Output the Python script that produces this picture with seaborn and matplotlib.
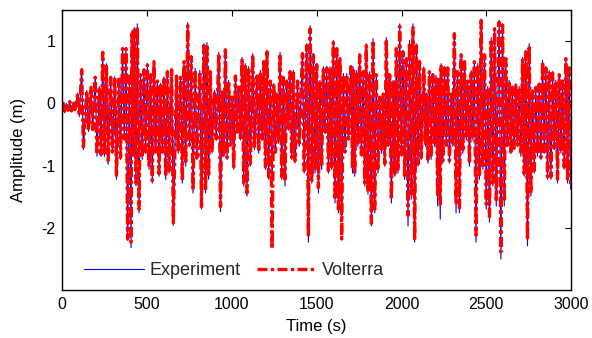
import numpy as np
import pandas as pd
import matplotlib
matplotlib.use("Agg")
import matplotlib.pyplot as plt
import seaborn as sns

# Envelope readings (time centre in s, local max / local min in m)
t_centres = [10, 30, 50, 70, 96, 120, 150, 175, 200, 224, 244, 266, 291, 315, 339, 361, 381, 401, 416,
             430, 448, 467, 487, 507, 526, 546, 566, 585, 605, 625, 650, 679, 703, 723, 745, 766, 789, 816, 840,
             858, 878, 903, 928, 947, 967, 986, 1006, 1026, 1045, 1065, 1084, 1104, 1128, 1153, 1173, 1193, 1212, 1232, 1252, 1270,
             1289, 1308, 1328, 1348, 1367, 1392, 1421, 1446, 1466, 1485, 1505, 1524, 1544, 1564, 1583, 1603, 1623, 1642, 1662, 1682, 1706,
             1719, 1738, 1758, 1778, 1797, 1817, 1837, 1856, 1876, 1896, 1915, 1935, 1955, 1974, 1994, 2013, 2033, 2052, 2072, 2092, 2111, 2136,
             2150, 2169, 2189, 2208, 2223, 2238, 2258, 2277, 2297, 2316, 2336, 2356, 2376, 2395, 2415, 2434, 2454, 2474, 2494, 2513, 2533, 2553,
             2580, 2600, 2619, 2639, 2658, 2678, 2698, 2718, 2737, 2757, 2777, 2796, 2816, 2836, 2855, 2875, 2895, 2914, 2934, 2953, 2973, 2992]

exp_hi = [0.02, 0.00, 0.03, 0.02, 0.16, 0.56, 0.21, 0.27, 0.43, 0.27, 0.84, 0.64, 0.43, 0.43, 0.40, 0.90, 0.90, 0.45, 1.17,
          1.22, 1.28, 0.48, 0.56, 0.64, 0.48, 0.69, 0.37, 0.32, 0.43, 0.53, 0.56, 0.45, 0.43, 0.69, 1.30, 0.77, 0.56, 0.53, 0.96,
          0.98, 0.53, 0.21, 0.82, 0.21, 0.88, 0.37, 0.11, 0.45, 0.27, 0.74, 0.64, 0.59, 0.80, 0.45, 0.53, 0.69, 0.85, 0.37, 0.32, 0.16,
          0.82, 0.43, 0.37, 0.53, 0.53, 0.37, 0.82, 0.96, 1.25, 0.80, 0.64, 0.37, 0.59, 0.59, 0.59, 1.01, 0.90, 0.74, 0.48, 0.48, 0.61,
          0.59, 0.53, 0.80, 0.53, 0.96, 0.51, 1.04, 0.48, 0.11, 0.16, 1.06, 0.48, 0.37, 0.90, 1.28, 0.85, 0.74, 1.01, 1.28, 0.96, 0.69, 0.59,
          0.16, 0.53, 0.48, 0.45, 0.40, 0.64, 0.59, 0.59, 0.16, 1.14, 0.53, 0.80, 0.69, 0.37, 0.53, 0.69, 0.64, 1.36, 0.80, 0.27, 1.06, 1.22,
          1.33, 1.28, 0.74, 0.37, 0.27, 0.32, 0.27, 0.74, 0.85, 0.96, 0.21, 0.27, 0.32, 0.69, 0.59, 0.53, 0.51, 0.37, 0.48, 0.37, 0.74, 0.59]

exp_lo = [-0.15, -0.12, -0.13, -0.10, -0.21, -0.74, -0.45, -0.43, -0.85, -0.85, -0.85, -0.98, -0.80, -1.22, -0.90, -0.59, -2.20, -2.32, -0.85,
          -1.33, -1.76, -0.90, -0.80, -1.06, -1.28, -0.80, -1.17, -0.80, -1.22, -1.12, -1.96, -0.80, -1.28, -1.01, -0.69, -1.44, -0.90, -1.70, -1.44,
          -1.22, -0.80, -0.59, -1.74, -0.85, -0.90, -0.69, -1.06, -0.48, -0.59, -1.33, -1.49, -1.01, -0.74, -0.80, -0.59, -1.06, -1.22, -1.25, -0.80, -0.64,
          -1.22, -1.33, -0.43, -0.90, -0.96, -0.69, -1.12, -2.23, -1.28, -1.12, -1.44, -1.06, -0.48, -1.12, -1.06, -1.60, -1.76, -1.90, -0.80, -0.59, -1.12,
          -1.17, -0.69, -0.85, -1.33, -1.46, -1.97, -1.76, -1.12, -0.80, -1.01, -0.69, -1.60, -1.17, -1.12, -0.85, -1.22, -1.97, -1.54, -2.23, -1.01, -0.90, -0.69,
          -0.96, -0.90, -0.69, -1.65, -1.86, -0.96, -0.69, -0.96, -0.69, -1.76, -1.76, -0.80, -0.59, -1.01, -0.59, -2.23, -1.22, -1.06, -1.70, -1.91, -1.33, -1.65,
          -2.50, -1.65, -0.69, -0.80, -0.74, -0.69, -0.85, -1.17, -2.29, -1.49, -1.12, -0.85, -0.90, -0.80, -1.22, -1.22, -0.74, -1.28, -0.80, -1.06, -1.28, -1.38]

vol_hi = [0.02, 0.00, 0.03, 0.02, 0.15, 0.54, 0.20, 0.26, 0.42, 0.26, 0.82, 0.62, 0.42, 0.42, 0.39, 0.88, 0.88, 0.44, 1.12,
          1.18, 1.24, 0.46, 0.54, 0.62, 0.46, 0.67, 0.36, 0.31, 0.42, 0.51, 0.54, 0.44, 0.42, 0.67, 1.25, 0.75, 0.54, 0.51, 0.93,
          0.95, 0.51, 0.20, 0.80, 0.20, 0.86, 0.36, 0.10, 0.44, 0.26, 0.72, 0.62, 0.57, 0.78, 0.44, 0.51, 0.67, 0.83, 0.36, 0.31, 0.15,
          0.80, 0.42, 0.36, 0.51, 0.51, 0.36, 0.80, 0.93, 1.20, 0.78, 0.62, 0.36, 0.57, 0.57, 0.57, 0.98, 0.88, 0.72, 0.46, 0.46, 0.59,
          0.57, 0.51, 0.78, 0.51, 0.93, 0.49, 1.01, 0.46, 0.10, 0.15, 1.03, 0.46, 0.36, 0.88, 1.24, 0.83, 0.72, 0.98, 1.22, 0.93, 0.67, 0.57,
          0.15, 0.51, 0.46, 0.42, 0.38, 0.62, 0.57, 0.57, 0.15, 1.12, 0.51, 0.78, 0.67, 0.36, 0.51, 0.67, 0.62, 1.33, 0.78, 0.26, 1.03, 1.20,
          1.31, 1.26, 0.72, 0.36, 0.26, 0.31, 0.26, 0.70, 0.83, 0.93, 0.20, 0.26, 0.31, 0.67, 0.57, 0.51, 0.49, 0.36, 0.46, 0.36, 0.72, 0.57]

vol_lo = [-0.14, -0.11, -0.12, -0.10, -0.20, -0.70, -0.43, -0.42, -0.82, -0.82, -0.82, -0.94, -0.78, -1.18, -0.87, -0.57, -2.18, -2.23, -0.82,
          -1.28, -1.70, -0.87, -0.78, -1.02, -1.24, -0.78, -1.13, -0.78, -1.18, -1.08, -1.92, -0.78, -1.24, -0.97, -0.67, -1.40, -0.87, -1.66, -1.40,
          -1.18, -0.78, -0.57, -1.66, -0.82, -0.87, -0.67, -1.02, -0.46, -0.57, -1.28, -1.44, -0.97, -0.72, -0.78, -0.57, -1.02, -1.18, -2.34, -0.78, -0.62,
          -1.18, -1.22, -0.42, -0.87, -0.92, -0.67, -1.08, -2.14, -1.24, -1.08, -1.35, -1.02, -0.46, -1.08, -1.02, -1.55, -1.70, -2.18, -0.78, -0.57, -1.05,
          -1.13, -0.67, -0.82, -1.28, -1.42, -1.93, -1.70, -1.08, -0.78, -0.97, -0.67, -1.55, -1.13, -1.08, -0.82, -1.18, -1.80, -1.49, -2.20, -0.97, -0.87, -0.67,
          -0.90, -0.86, -0.67, -1.50, -1.62, -0.92, -0.67, -0.92, -0.67, -1.60, -1.68, -0.78, -0.57, -0.97, -0.57, -2.12, -1.18, -1.02, -1.62, -1.82, -1.28, -1.55,
          -2.39, -1.58, -0.67, -0.78, -0.72, -0.67, -0.82, -1.13, -2.20, -1.44, -1.08, -0.82, -0.87, -0.78, -1.18, -1.18, -0.72, -1.22, -0.78, -1.02, -1.22, -1.30]


def build(centres, hi, lo):
    t, v = [], []
    for c, h, l in zip(centres, hi, lo):
        t += [c - 5, c + 5]
        v += [h, l]
    return pd.DataFrame({"Time (s)": t, "Amplitude (m)": v})


df_exp = build(t_centres, exp_hi, exp_lo)
df_vol = build(t_centres, vol_hi, vol_lo)

sns.set_theme(style="white")
plt.rcParams['font.family'] = ['Liberation Sans', 'DejaVu Sans']
plt.rcParams['axes.unicode_minus'] = False

fig = plt.figure(figsize=(5.92, 3.38), dpi=100)
ax = fig.add_axes([0.105, 0.142, 0.860, 0.828])

sns.lineplot(data=df_exp, x="Time (s)", y="Amplitude (m)", ax=ax, color="#0000FF",
             lw=0.8, estimator=None, sort=False, label="Experiment")
sns.lineplot(data=df_vol, x="Time (s)", y="Amplitude (m)", ax=ax, color="#FF0000",
             lw=2.4, estimator=None, sort=False, label="Volterra",
             linestyle=(0, (3, 1.0, 1, 1.0)))

ax.set_xlim(0, 3000)
ax.set_ylim(-3, 1.5)
ax.set_xticks([0, 500, 1000, 1500, 2000, 2500, 3000])
ax.set_yticks([-2, -1, 0, 1])
ax.tick_params(direction="in", top=True, right=True, length=4, width=0.8,
               labelsize=11.5, colors="black", pad=5)
for s in ax.spines.values():
    s.set_color("black")
    s.set_linewidth(1.0)
ax.set_xlabel("Time (s)", fontsize=12, color="black", labelpad=5)
ax.set_ylabel("Amplitude (m)", fontsize=12, color="black", labelpad=11)

ax.legend(loc="lower left", ncol=2, frameon=False, fontsize=13,
          handlelength=3.3, handletextpad=0.3, columnspacing=0.9,
          borderaxespad=0.2, bbox_to_anchor=(0.022, 0.0))

fig.savefig("out.png", dpi=100)
